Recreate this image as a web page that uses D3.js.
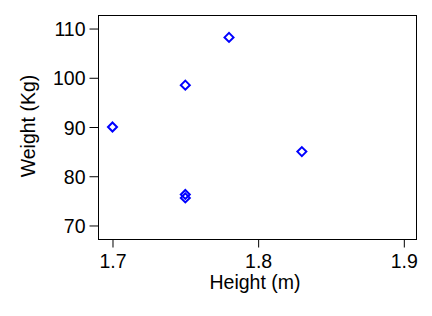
<!DOCTYPE html>
<html>
<head>
<meta charset="utf-8">
<script src="https://d3js.org/d3.v7.min.js"></script>
<style>
  body { margin: 0; background: #fff; }
  text { font-family: "Liberation Sans", Arial, sans-serif; }
</style>
</head>
<body>
<script>
// data
var heights = [1.70, 1.75, 1.78, 1.83, 1.75, 1.75];
var weights = [90, 98.5, 108.2, 85, 76.3, 75.6];
var xTicks = [1.7, 1.8, 1.9];
var yTicks = [70, 80, 90, 100, 110];

var W = 432, H = 316;
var box = {left: 98.5, right: 416.5, top: 15.5, bottom: 239.5};

var x = d3.scaleLinear()
    .domain([1.6904, 1.9087])
    .range([box.left, box.right]);
var y = d3.scaleLinear()
    .domain([67.15, 112.65])
    .range([box.bottom, box.top]);

var svg = d3.select("body").append("svg")
    .attr("width", W)
    .attr("height", H);

// frame
svg.append("rect")
    .attr("x", box.left)
    .attr("y", box.top)
    .attr("width", box.right - box.left)
    .attr("height", box.bottom - box.top)
    .attr("fill", "none")
    .attr("stroke", "#000")
    .attr("stroke-width", 1);

// x axis
var gx = svg.append("g")
    .attr("transform", "translate(0," + box.bottom + ")")
    .call(d3.axisBottom(x).tickValues(xTicks).tickSize(8).tickPadding(7)
      .tickFormat(d3.format(".1f")));
gx.select(".domain").remove();
gx.selectAll("text").attr("font-size", "19.5px").attr("fill", "#000")
    .attr("font-family", "Liberation Sans, Arial, sans-serif");
gx.selectAll("line").attr("stroke", "#000");

// y axis
var gy = svg.append("g")
    .attr("transform", "translate(" + box.left + ",0)")
    .call(d3.axisLeft(y).tickValues(yTicks).tickSize(9).tickPadding(4));
gy.select(".domain").remove();
gy.selectAll("text").attr("font-size", "19.5px").attr("fill", "#000")
    .attr("font-family", "Liberation Sans, Arial, sans-serif")
    .attr("dy", "0.36em");
gy.selectAll("line").attr("stroke", "#000");

// axis titles
svg.append("text")
    .attr("x", 255)
    .attr("y", 289)
    .attr("text-anchor", "middle")
    .attr("font-size", "19.5px")
    .text("Height (m)");

svg.append("text")
    .attr("transform", "translate(35,126) rotate(-90)")
    .attr("text-anchor", "middle")
    .attr("font-size", "19.5px")
    .text("Weight (Kg)");

// diamond markers
var r = 4.5;
svg.append("g").selectAll("path")
    .data(heights.map(function(h, i) { return [h, weights[i]]; }))
  .enter().append("path")
    .attr("d", function(d) {
      var cx = x(d[0]), cy = y(d[1]);
      return "M" + cx + "," + (cy - r) + "L" + (cx + r) + "," + cy +
             "L" + cx + "," + (cy + r) + "L" + (cx - r) + "," + cy + "Z";
    })
    .attr("fill", "none")
    .attr("stroke", "#0000ff")
    .attr("stroke-width", 2);
</script>
</body>
</html>
